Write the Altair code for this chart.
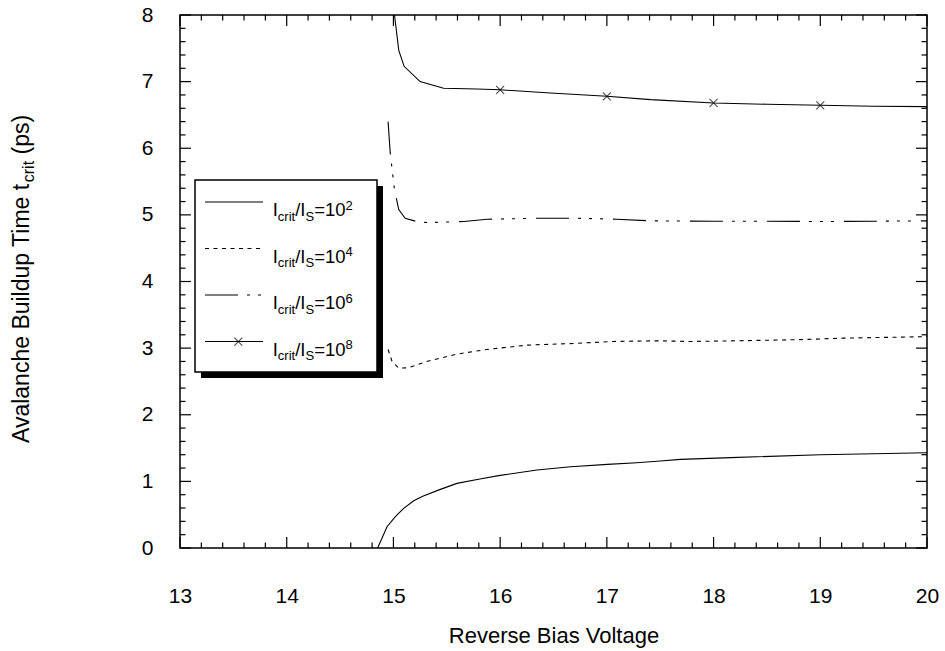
import altair as alt
import pandas as pd

# ---------------- data ----------------
c1_x = [14.852, 14.94, 15.018, 15.096, 15.19, 15.28, 15.44, 15.595, 15.81, 16.0,
        16.345, 16.66, 17.006, 17.28, 17.50, 17.69, 18.16, 19.0, 20.0]
c1_y = [0.0, 0.32, 0.47, 0.595, 0.71, 0.78, 0.88, 0.97, 1.035, 1.09,
        1.17, 1.22, 1.255, 1.28, 1.305, 1.33, 1.356, 1.40, 1.43]

c2_x = [14.95, 14.987, 15.05, 15.14, 15.31, 15.595, 15.876, 16.25, 16.69, 17.06,
        17.47, 17.78, 18.22, 18.87, 19.215, 19.93, 20.0]
c2_y = [2.98, 2.80, 2.70, 2.705, 2.80, 2.91, 2.98, 3.045, 3.07, 3.10,
        3.11, 3.10, 3.11, 3.13, 3.15, 3.17, 3.175]

c3_x = [14.95, 14.97, 15.01, 15.05, 15.11, 15.24, 15.33, 15.66, 15.88, 16.38,
        16.69, 17.09, 17.41, 18.0, 18.5, 19.0, 19.5, 20.0]
c3_y = [6.40, 5.93, 5.375, 5.08, 4.95, 4.89, 4.885, 4.90, 4.935, 4.95,
        4.95, 4.935, 4.91, 4.905, 4.905, 4.90, 4.905, 4.91]

c4_x = [15.01, 15.05, 15.10, 15.25, 15.47, 15.78, 16.0, 16.47, 17.0, 17.41,
        18.0, 18.5, 19.0, 19.5, 20.0]
c4_y = [8.0, 7.47, 7.23, 7.0, 6.90, 6.89, 6.877, 6.83, 6.78, 6.73,
        6.68, 6.66, 6.645, 6.63, 6.625]

m4_x = [16, 17, 18, 19]
m4_y = [6.877, 6.78, 6.68, 6.645]

x_major = [13, 14, 15, 16, 17, 18, 19, 20]
y_major = [0, 1, 2, 3, 4, 5, 6, 7, 8]
exponents = ["2", "4", "6", "8"]

# ---------------- layout / style ----------------
W, H = 747, 533
FONT = "Liberation Sans"
MAJ, MIN = 11, 5.5

x_minor = [round(13 + 0.2 * i, 1) for i in range(36) if i % 5 != 0]
y_minor = [round(0.2 * i, 1) for i in range(41) if i % 5 != 0]

xs = alt.Scale(domain=[13, 20], nice=False, zero=False)
ys = alt.Scale(domain=[0, 8], nice=False, zero=False)

xaxis = alt.Axis(values=x_major, format="d", ticks=False, domain=False, grid=False,
                 labelFont=FONT, labelFontSize=21, labelColor="black",
                 labelPadding=48, labelBaseline="middle", labelFlush=False,
                 titleFont=FONT, titleFontSize=22, titleFontWeight="normal",
                 titleColor="black", titleY=87, titleBaseline="middle")
yaxis = alt.Axis(values=y_major, format="d", ticks=False, domain=False, grid=False,
                 labelFont=FONT, labelFontSize=21, labelColor="black",
                 labelPadding=27, labelBaseline="middle", labelFlush=False)

X = alt.X("x:Q", scale=xs, axis=xaxis, title="Reverse Bias Voltage")
Y = alt.Y("y:Q", scale=ys, axis=yaxis, title=None)

one = pd.DataFrame({"x": [0]})

layers = []

def curve(xv, yv, dash=None):
    df = pd.DataFrame({"x": xv, "y": yv})
    kw = dict(color="black", strokeWidth=1.1, clip=True)
    if dash:
        kw["strokeDash"] = dash
    return alt.Chart(df).mark_line(**kw).encode(x=X, y=Y, order=alt.Order("x:Q"))

DASH2 = [4, 4.5]
DASH3 = [33, 9, 3, 8, 3, 8, 3, 10]

layers.append(curve(c1_x, c1_y))
layers.append(curve(c2_x, c2_y, DASH2))
layers.append(curve(c3_x, c3_y, DASH3))
layers.append(curve(c4_x, c4_y))

XSHAPE = "M-1,-1L1,1M-1,1L1,-1"
layers.append(
    alt.Chart(pd.DataFrame({"x": m4_x, "y": m4_y}))
    .mark_point(shape=XSHAPE, size=64, filled=False, color="black", strokeWidth=1.1)
    .encode(x=X, y=Y)
)

# inward ticks on all four sides
def xticks(vals, length):
    df = pd.DataFrame({"x": vals})
    bot = alt.Chart(df).mark_rule(color="black", strokeWidth=1.2).encode(
        x=X, y=alt.value(H), y2=alt.value(H - length))
    top = alt.Chart(df).mark_rule(color="black", strokeWidth=1.2).encode(
        x=X, y=alt.value(0), y2=alt.value(length))
    return [bot, top]

def yticks(vals, length):
    df = pd.DataFrame({"y": vals})
    lft = alt.Chart(df).mark_rule(color="black", strokeWidth=1.2).encode(
        y=Y, x=alt.value(0), x2=alt.value(length))
    rgt = alt.Chart(df).mark_rule(color="black", strokeWidth=1.2).encode(
        y=Y, x=alt.value(W), x2=alt.value(W - length))
    return [lft, rgt]

layers += xticks(x_major, MAJ) + xticks(x_minor, MIN)
layers += yticks(y_major, MAJ) + yticks(y_minor, MIN)

# Arial / Liberation Sans advance widths (per 1000 em)
ADV = {"A": 667, "v": 500, "a": 556, "l": 222, "n": 556, "c": 500, "h": 556, "e": 556,
       " ": 278, "B": 667, "u": 556, "i": 222, "d": 556, "p": 556, "T": 611, "m": 833,
       "t": 278, "r": 333, "(": 333, "s": 500, ")": 333, "/": 278, "I": 278, "S": 667,
       "=": 584, "0": 556, "1": 556, "2": 556, "4": 556, "6": 556, "8": 556}

def tw(s, fs):
    return sum(ADV.get(ch, 556) for ch in s) * fs / 1000.0

def txt(s, x, y, fs, angle=0):
    kw = dict(text=s, align="left", baseline="alphabetic", font=FONT, fontSize=fs,
              color="black")
    if angle:
        kw["angle"] = angle
    return alt.Chart(one).mark_text(**kw).encode(x=alt.value(x), y=alt.value(y))

# y-axis title with subscript (rotated)
YF, yf = 23, 16
ybase_x, ystart = -151, 428
p1 = "Avalanche Buildup Time t"
layers.append(txt(p1, ybase_x, ystart, YF, 270))
pos = ystart - tw(p1, YF)
layers.append(txt("crit", ybase_x + 5, pos, yf, 270))
pos -= tw("crit", yf) + tw(" ", YF)
layers.append(txt("(ps)", ybase_x, pos, YF, 270))

# legend box
BX0, BX1, BY0, BY1 = 15, 197, 165, 357
layers.append(alt.Chart(one).mark_rect(color="black").encode(
    x=alt.value(BX0 + 6), x2=alt.value(BX1 + 6), y=alt.value(BY0 + 6), y2=alt.value(BY1 + 6)))
layers.append(alt.Chart(one).mark_rect(fill="white", stroke="black", strokeWidth=1.5).encode(
    x=alt.value(BX0), x2=alt.value(BX1), y=alt.value(BY0), y2=alt.value(BY1)))

rows = [187, 233.5, 280, 326.5]
dashes = [None, DASH2, DASH3, None]
LF, lf = 18.5, 13
TX = 92.7
for ry, dsh, ex in zip(rows, dashes, exponents):
    kw = dict(color="black", strokeWidth=1.1)
    if dsh:
        kw["strokeDash"] = dsh
    layers.append(alt.Chart(one).mark_rule(**kw).encode(
        x=alt.value(25), x2=alt.value(83), y=alt.value(ry)))
    bx = TX
    layers.append(txt("I", bx, ry + 14, LF)); bx += tw("I", LF)
    layers.append(txt("crit", bx, ry + 18.5, lf)); bx += tw("crit", lf)
    layers.append(txt("/I", bx, ry + 14, LF)); bx += tw("/I", LF)
    layers.append(txt("S", bx, ry + 18.5, lf)); bx += tw("S", lf)
    layers.append(txt("=10", bx, ry + 14, LF)); bx += tw("=10", LF)
    layers.append(txt(ex, bx, ry + 7.5, lf))

layers.append(alt.Chart(one).mark_point(shape=XSHAPE, size=64, filled=False,
                                        color="black", strokeWidth=1.1).encode(
    x=alt.value(58.3), y=alt.value(326.7)))

chart = alt.layer(*layers).properties(
    width=W, height=H,
    autosize=alt.AutoSizeParams(type="none"),
    padding={"left": 180, "top": 15, "right": 18, "bottom": 103},
    background="white",
).configure_view(stroke="black", strokeWidth=1.5)

chart.save("out.html", embed_options={"renderer": "svg", "actions": False})
